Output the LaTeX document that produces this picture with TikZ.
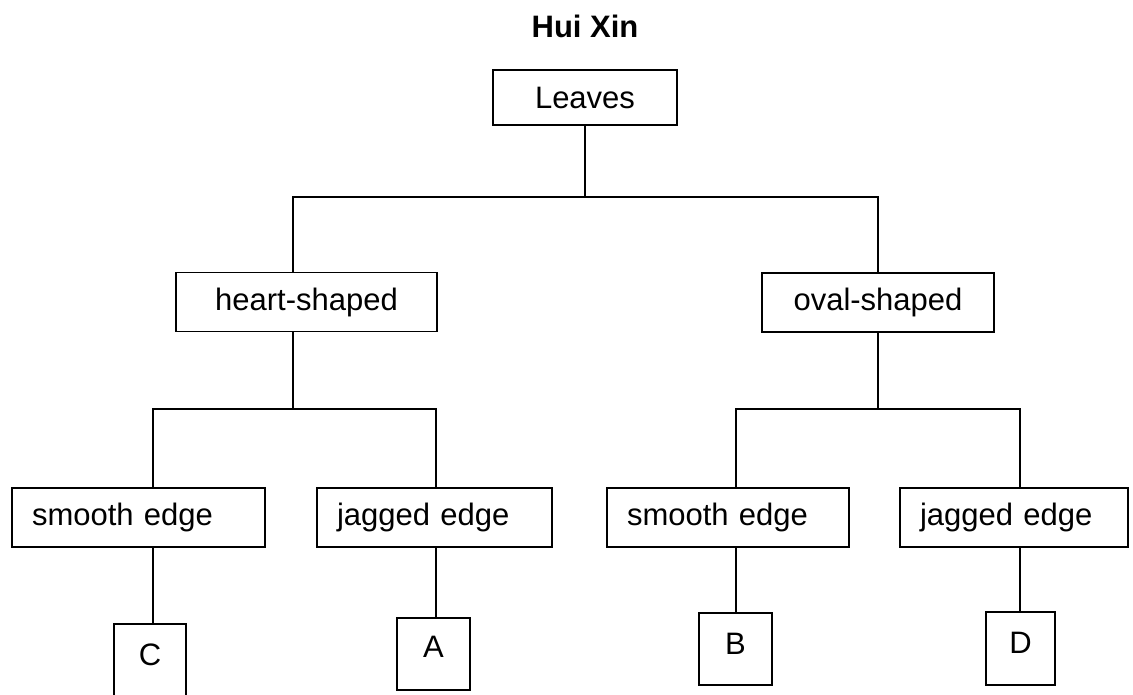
\documentclass[tikz,border=0pt]{standalone}
\usepackage{fontspec}
\setmainfont{Liberation Sans}
\usetikzlibrary{positioning}
\begin{document}
\begin{tikzpicture}[x = 1pt, y = -1pt, line width = 1.6pt,
        box/.style = {draw, rectangle, inner sep = 0pt, minimum height = 59pt,
            font = \fontsize{31}{36}\selectfont},
        leftbox/.style = {box, align = left, inner xsep = 20pt},
        letterbox/.style = {box, minimum width = 72pt, minimum height = 72pt,
            text height = 22pt, text depth = 12pt}]
    \useasboundingbox (0, 0) rectangle (1133, 694);
    % Title and root
    \node [font = \fontsize{31}{36}\selectfont\bfseries] (title) at (585, 26) {Hui Xin};
    \node [box, minimum width = 184pt, minimum height = 55pt] (leaves) at (585, 97.5) {Leaves};
    % Second row
    \node [box, minimum width = 261pt] (heart) at (306.5, 302) {heart-shaped};
    \node [box, minimum width = 232pt] (oval) at (878, 302.5) {oval-shaped};
    % Third row
    \node [leftbox, text width = 213pt] (smoothA) at (138.5, 517.5) {smooth edge};
    \node [leftbox, text width = 195pt] (jaggedA) at (434.5, 517.5) {jagged edge};
    \node [leftbox, text width = 202pt] (smoothB) at (728, 517.5) {smooth edge};
    \node [leftbox, text width = 188pt] (jaggedB) at (1014, 517.5) {jagged edge};
    % Letters
    \node [letterbox] (c) at (150, 660) {C};
    \node [letterbox, minimum width = 73pt, text depth = 16pt] (a) at (433.5, 654) {A};
    \node [letterbox, minimum width = 73pt] (b) at (735.5, 649) {B};
    \node [letterbox, minimum width = 69pt, minimum height = 73pt] (d) at (1020.5, 648.5) {D};
    % Junctions
    \coordinate (t1) at (293, 197);
    \coordinate (t2) at (878, 197);
    \coordinate (l1) at (153, 409);
    \coordinate (l2) at (436, 409);
    \coordinate (r1) at (736, 409);
    \coordinate (r2) at (1020, 409);
    % Connectors
    \draw (leaves.south) -- (leaves.south |- t1);
    \draw (heart.north -| t1) -- (t1) -- (t2) -- (oval.north);
    \draw (heart.south -| t1) -- (t1 |- l1);
    \draw (smoothA.north -| l1) -- (l1) -- (l2) -- (jaggedA.north -| l2);
    \draw (oval.south) -- (oval.south |- r1);
    \draw (smoothB.north -| r1) -- (r1) -- (r2) -- (jaggedB.north -| r2);
    \draw (smoothA.south -| l1) -- (c.north -| l1);
    \draw (jaggedA.south -| l2) -- (a.north -| l2);
    \draw (smoothB.south -| r1) -- (b.north -| r1);
    \draw (jaggedB.south -| r2) -- (d.north -| r2);
\end{tikzpicture}
\end{document}
